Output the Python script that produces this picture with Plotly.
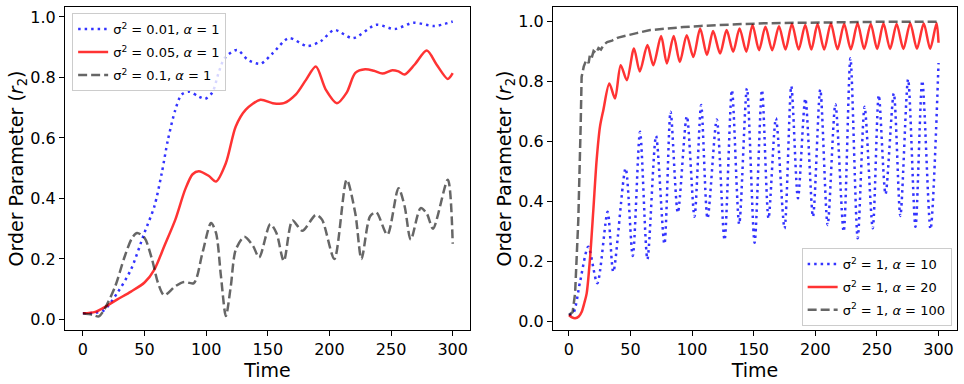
import plotly.graph_objects as go

# left panel: sigma^2 varies, alpha = 1
t_l_blue = [0, 10, 17, 28, 39, 50, 58, 64, 69, 75, 80, 86, 94, 99, 105, 110, 115, 125, 134, 144,
            154, 167, 182, 193, 204, 219, 238, 253, 268, 285, 300]
r_l_blue = [0.02, 0.022, 0.03, 0.088, 0.165, 0.287, 0.374, 0.484, 0.594, 0.693, 0.743, 0.753, 0.737, 0.729,
            0.75, 0.814, 0.864, 0.891, 0.858, 0.845, 0.88, 0.93, 0.904, 0.92, 0.957, 0.93, 0.974, 0.96,
            0.981, 0.97, 0.985]

t_l_red = [0, 10, 17, 28, 39, 50, 58, 66, 75, 83, 89, 94, 102, 108, 116, 124, 132, 144, 154, 163,
           173, 181, 189, 197, 206, 214, 221, 229, 236, 243, 251, 256, 261, 269, 279, 287, 296, 300]
r_l_red = [0.02, 0.025, 0.039, 0.066, 0.092, 0.122, 0.165, 0.242, 0.33, 0.43, 0.48, 0.49, 0.475, 0.456,
           0.517, 0.638, 0.693, 0.726, 0.715, 0.715, 0.745, 0.792, 0.836, 0.76, 0.715, 0.75, 0.815, 0.827,
           0.822, 0.813, 0.824, 0.82, 0.81, 0.842, 0.889, 0.842, 0.795, 0.814]

t_l_gray = [0, 8, 13, 17, 26, 34, 40, 44, 50, 56, 61, 66, 75, 82, 90, 97, 104, 108, 112, 116, 120,
            124, 131, 138, 143, 152, 157, 163, 170, 178, 189, 194, 204, 214, 221, 226, 233, 238, 247,
            256, 261, 266, 274, 279, 284, 296, 300]
r_l_gray = [0.02, 0.015, 0.01, 0.03, 0.107, 0.209, 0.27, 0.286, 0.27, 0.2, 0.12, 0.08, 0.11, 0.124, 0.12,
            0.22, 0.319, 0.286, 0.143, 0.011, 0.11, 0.23, 0.273, 0.243, 0.205, 0.315, 0.286, 0.193, 0.327,
            0.293, 0.346, 0.33, 0.2, 0.462, 0.35, 0.2, 0.341, 0.354, 0.28, 0.434, 0.374, 0.264, 0.368,
            0.35, 0.3, 0.462, 0.25]

# right panel: sigma^2 = 1, alpha varies
t_r_blue = [0, 3.5, 9, 15.7, 23, 31.4, 36, 46, 51.8, 57.7, 63.7, 70.7, 77.5, 82.5, 88.4, 95.7, 101.9,
            107.3, 112.5, 120, 126.3, 132.3, 138.2, 144.5, 150.7, 156.7, 162, 168, 175, 180.5, 185.9,
            191.9, 198.1, 204, 210, 216.3, 223, 228.5, 234.4, 240, 246.6, 251.5, 257, 263.7, 269,
            275.3, 281.3, 286.8, 293.5, 300]
r_r_blue = [0.02, 0.026, 0.13, 0.248, 0.126, 0.364, 0.164, 0.509, 0.217, 0.631, 0.206, 0.617, 0.257,
            0.698, 0.361, 0.683, 0.348, 0.72, 0.342, 0.672, 0.27, 0.77, 0.323, 0.776, 0.261, 0.77,
            0.342, 0.676, 0.309, 0.783, 0.409, 0.742, 0.348, 0.772, 0.32, 0.723, 0.298, 0.876, 0.276,
            0.714, 0.309, 0.753, 0.423, 0.759, 0.35, 0.806, 0.314, 0.801, 0.306, 0.86]

t_r_red = [0, 2.5, 5, 8, 10.3, 12.5, 14.4, 17, 19.8, 22.5, 25.2, 27.9, 32.8, 37.4, 42, 47, 52.8, 57.5,
           63.7, 68.5, 74.8, 79.5, 85, 90, 95.6, 101, 106.5, 112, 117, 122.7, 128, 133.3, 138.5, 144,
           149, 154.3, 159.5, 165, 170.5, 175.8, 181, 186.5, 191.8, 196.8, 201.8, 207.2, 212.6, 218,
           223.4, 228.8, 234.3, 239.6, 245, 250.2, 255.3, 260.7, 266, 271.5, 277, 282.5, 288, 293.2,
           298.4, 300]
r_r_red = [0.02, 0.012, 0.009, 0.015, 0.03, 0.06, 0.092, 0.203, 0.37, 0.537, 0.648, 0.703, 0.792, 0.742,
           0.853, 0.803, 0.909, 0.832, 0.92, 0.853, 0.95, 0.859, 0.95, 0.864, 0.953, 0.88, 0.975, 0.887,
           0.967, 0.892, 0.97, 0.898, 0.975, 0.898, 0.987, 0.903, 0.981, 0.903, 0.983, 0.905, 0.99,
           0.905, 0.987, 0.905, 0.99, 0.905, 0.992, 0.906, 0.99, 0.906, 0.993, 0.907, 0.99, 0.907,
           0.992, 0.907, 0.99, 0.907, 0.993, 0.908, 0.992, 0.908, 0.993, 0.928]

t_r_gray = [0, 3, 5, 7.6, 9.5, 10.3, 12, 14, 16, 17, 18.5, 20, 22, 24, 26, 28, 31, 35, 40, 47, 55, 66,
            80, 93, 107, 120, 140, 161, 180, 202, 230, 260, 300]
r_r_gray = [0.02, 0.03, 0.092, 0.337, 0.648, 0.814, 0.848, 0.87, 0.86, 0.887, 0.878, 0.9, 0.893, 0.91,
            0.905, 0.92, 0.93, 0.935, 0.945, 0.953, 0.96, 0.97, 0.976, 0.98, 0.984, 0.987, 0.99, 0.993,
            0.994, 0.996, 0.997, 0.998, 0.998]

BLUE = 'rgba(0,0,255,0.8)'
RED = 'rgba(255,0,0,0.8)'
GRAY = 'rgba(0,0,0,0.6)'
DOT = '2.5px,4px'
DASH = '9px,4px'
FONT = 'DejaVu Sans'


def line(x, y, name, color, dash, xa, ya, legend, shape='spline'):
    # each trace in its own legend group so tracegroupgap spaces the legend rows
    return go.Scatter(x=x, y=y, mode='lines', name=name, xaxis=xa, yaxis=ya, legend=legend,
                      legendgroup=name,
                      line=dict(color=color, width=2.5, dash=dash, shape=shape, smoothing=0.8))


fig = go.Figure([
    line(t_l_blue, r_l_blue, 'σ<sup>2</sup> = 0.01, <i>α</i> = 1', BLUE, DOT, 'x', 'y', 'legend'),
    line(t_l_red, r_l_red, 'σ<sup>2</sup> = 0.05, <i>α</i> = 1', RED, 'solid', 'x', 'y', 'legend'),
    line(t_l_gray, r_l_gray, 'σ<sup>2</sup> = 0.1, <i>α</i> = 1', GRAY, DASH, 'x', 'y', 'legend'),
    line(t_r_blue, r_r_blue, 'σ<sup>2</sup> = 1, <i>α</i> = 10', BLUE, DOT, 'x2', 'y2', 'legend2'),
    line(t_r_red, r_r_red, 'σ<sup>2</sup> = 1, <i>α</i> = 20', RED, 'solid', 'x2', 'y2', 'legend2'),
    line(t_r_gray, r_r_gray, 'σ<sup>2</sup> = 1, <i>α</i> = 100', GRAY, DASH, 'x2', 'y2', 'legend2',
         shape='linear'),
])

ax = dict(showline=True, mirror=True, linecolor='black', linewidth=1, showgrid=False, zeroline=False,
          ticks='outside', ticklen=5, tickcolor='black', tickfont=dict(size=16, color='black'),
          automargin=False)
xt = dict(text='Time', font=dict(size=19, color='black'), standoff=4)
yt = dict(text='Order Parameter (<i>r</i><sub>2</sub>)', font=dict(size=19, color='black'), standoff=1)
leg = dict(bgcolor='rgba(255,255,255,0.8)', bordercolor='#cccccc', borderwidth=1,
           font=dict(size=13, color='black', family=FONT), itemwidth=30, tracegroupgap=3)

fig.update_layout(
    width=964, height=384,
    margin=dict(l=65, r=7, t=7, b=54),
    paper_bgcolor='white', plot_bgcolor='white',
    font=dict(family=FONT, color='black'),
    xaxis=dict(ax, domain=[0, 0.454], range=[-14.5, 314], tickvals=[0, 50, 100, 150, 200, 250, 300],
               title=xt, anchor='y'),
    yaxis=dict(ax, domain=[0, 1], range=[-0.035, 1.033], tickvals=[0, 0.2, 0.4, 0.6, 0.8, 1.0],
               tickformat='.1f', title=yt, anchor='x'),
    xaxis2=dict(ax, domain=[0.547, 1], range=[-13, 315], tickvals=[0, 50, 100, 150, 200, 250, 300],
                title=xt, anchor='y2'),
    yaxis2=dict(ax, domain=[0, 1], range=[-0.03, 1.047], tickvals=[0, 0.2, 0.4, 0.6, 0.8, 1.0],
                tickformat='.1f', title=yt, anchor='x2'),
    legend=dict(leg, x=0.008, y=0.981, xanchor='left', yanchor='top'),
    legend2=dict(leg, x=0.994, y=0.012, xanchor='right', yanchor='bottom'),
)

# drop the browser's default body margin so the figure sits at the page corner
fig.write_html("out.html", config={'displayModeBar': False},
               post_script="document.body.style.margin='0';")
